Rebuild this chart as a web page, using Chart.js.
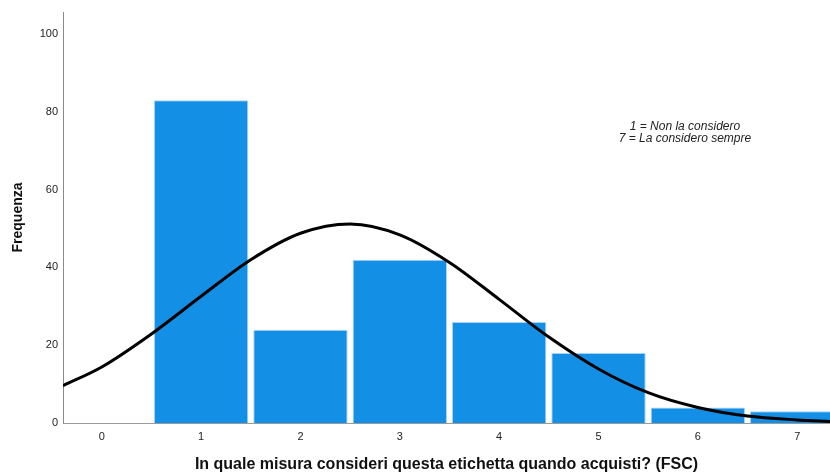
<!DOCTYPE html>
<html>
<head>
<meta charset="utf-8">
<script src="https://cdn.jsdelivr.net/npm/chart.js@4/dist/chart.umd.min.js"></script>
<style>
  html, body { margin: 0; padding: 0; background: #fff; }
  #wrap { width: 830px; height: 474px; }
</style>
</head>
<body>
<div id="wrap"><canvas id="histo"></canvas></div>
<script>
/* ── Dati ───────────────────────────────────────── */
const categorie   = [1, 2, 3, 4, 5, 6, 7];
const frequenze   = [83, 24, 42, 26, 18, 4, 3];
const curvaX      = [-0.39, 0, 0.5, 1, 1.5, 2, 2.5, 3, 3.5, 4, 4.5, 5, 5.5, 6, 6.5, 7, 7.33];
const curvaY      = [9.6, 14.4, 22.9, 32.6, 42.0, 48.8, 51.2, 48.4, 41.3, 31.8, 22.1, 13.9, 7.8, 4.0, 1.8, 0.8, 0.4];
const tickX       = [0, 1, 2, 3, 4, 5, 6, 7];
const tickY       = [0, 20, 40, 60, 80, 100];
const nota        = ['1 = Non la considero', '7 = La considero sempre'];

const font = 'Arial, "Liberation Sans", sans-serif';

/* ── Nota in corsivo ─────────────────────────────── */
const notaPlugin = {
  id: 'nota',
  afterDraw(chart) {
    const { ctx, scales: { x, y } } = chart;
    ctx.save();
    ctx.font = 'italic 12px ' + font;
    ctx.fillStyle = '#222';
    ctx.textAlign = 'center';
    ctx.textBaseline = 'middle';
    const cx = x.getPixelForValue(5.87);
    ctx.fillText(nota[0], cx, y.getPixelForValue(76.3));
    ctx.fillText(nota[1], cx, y.getPixelForValue(73.2));
    ctx.restore();
  }
};

new Chart(document.getElementById('histo'), {
  data: {
    datasets: [
      {
        type: 'line',
        data: curvaX.map((v, i) => ({ x: v, y: curvaY[i] })),
        borderColor: '#000',
        borderWidth: 3,
        pointRadius: 0,
        tension: 0.4,
        cubicInterpolationMode: 'monotone',
        order: 0
      },
      {
        type: 'bar',
        data: categorie.map((c, i) => ({ x: c, y: frequenze[i] })),
        backgroundColor: '#1390E6',
        borderColor: '#A9D3F3',
        borderWidth: 1,
        barPercentage: 0.95,
        categoryPercentage: 1,
        order: 1
      }
    ]
  },
  options: {
    responsive: true,
    maintainAspectRatio: false,
    animation: false,
    layout: { padding: { top: 12, right: 0, left: 0, bottom: 0 } },
    plugins: { legend: { display: false }, tooltip: { enabled: false } },
    scales: {
      x: {
        type: 'linear',
        offset: false,
        min: -0.39,
        max: 7.33,
        grid: { display: false, drawTicks: false },
        border: { color: '#9a9a9a', width: 1 },
        afterBuildTicks: s => { s.ticks = tickX.map(v => ({ value: v })); },
        afterFit: s => { s.height = 51; },
        ticks: { color: '#222', font: { size: 11, family: font }, padding: 7, maxRotation: 0 },
        title: {
          display: true,
          text: 'In quale misura consideri questa etichetta quando acquisti? (FSC)',
          color: '#111',
          font: { size: 16, weight: 'bold', family: font },
          padding: { top: 8, bottom: 0 }
        }
      },
      y: {
        min: 0,
        max: 105.7,
        grid: { display: false, drawTicks: false },
        border: { color: '#8a8a8a', width: 1 },
        afterBuildTicks: s => { s.ticks = tickY.map(v => ({ value: v })); },
        afterFit: s => { s.width = 63; },
        ticks: { color: '#222', font: { size: 11, family: font }, padding: 5 },
        title: {
          display: true,
          text: 'Frequenza',
          color: '#111',
          font: { size: 14, weight: 'bold', family: font },
          padding: { top: 10, bottom: 4 }
        }
      }
    }
  },
  plugins: [notaPlugin]
});
</script>
</body>
</html>
